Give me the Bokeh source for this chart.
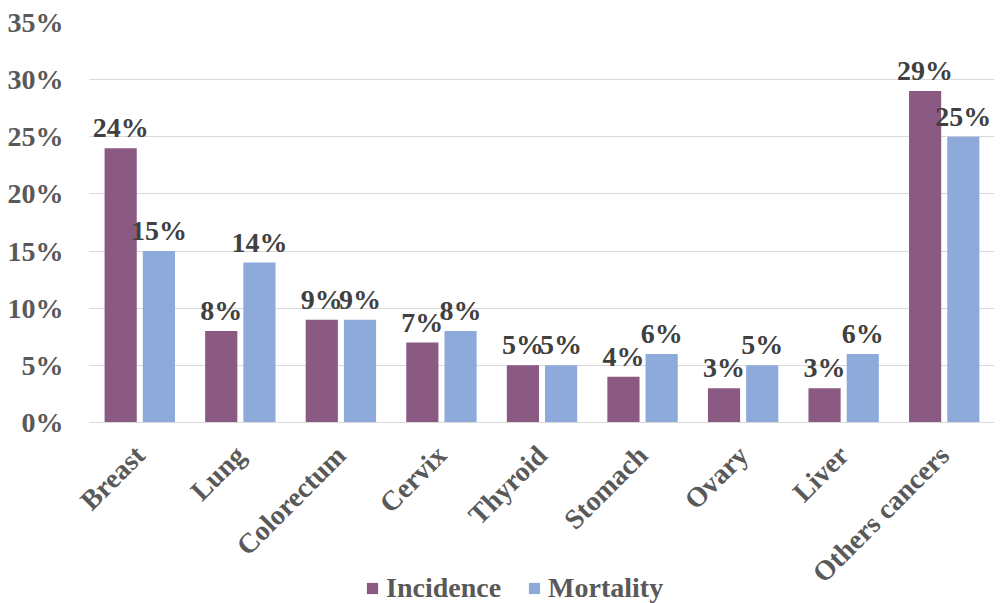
from math import pi
from bokeh.plotting import figure
from bokeh.models import (ColumnDataSource, Range1d, FixedTicker, Grid,
                          PrintfTickFormatter, CustomJSTickFormatter,
                          Legend, LegendItem, BoxAnnotation)
from bokeh.transform import dodge
from bokeh.core.properties import value
from bokeh.embed import file_html
from bokeh.resources import INLINE

categories = ["Breast", "Lung", "Colorectum", "Cervix", "Thyroid",
              "Stomach", "Ovary", "Liver", "Others cancers"]
incidence = [24, 8, 9, 7, 5, 4, 3, 3, 29]
mortality = [15, 14, 9, 8, 5, 6, 5, 6, 25]
y_ticks = [0, 5, 10, 15, 20, 25, 30, 35]

FONT = "Liberation Serif"
LEGEND_FONT = "'Liberation Serif', 'Times New Roman', serif"
INC_COLOR = "#8A5A83"
MOR_COLOR = "#8EAADB"
AX_TEXT = "#595959"
LBL_TEXT = "#404040"

positions = list(range(len(categories)))
n = len(categories)

# frame reaches the canvas bottom so the legend can sit inside it;
# value 0 lies 181 px above the bottom (400 px per 35 %)
Y_MAX = 35
Y_MIN = -Y_MAX * 181 / 400
# frame starts 17 px left of the first category so the rotated label is not clipped
PX_PER_CAT = 100.56
X_MIN = -0.5 - 17 / PX_PER_CAT
X_MAX = n - 0.5

src = ColumnDataSource(dict(
    pos=positions,
    inc=incidence,
    mor=mortality,
    inc_lbl=[f"{v}%" for v in incidence],
    mor_lbl=[f"{v}%" for v in mortality],
))

p = figure(width=1003, height=603, x_range=Range1d(X_MIN, X_MAX),
           y_range=Range1d(Y_MIN, Y_MAX), output_backend="svg",
           toolbar_location=None,
           min_border_left=72, min_border_right=9, min_border_top=22,
           min_border_bottom=0)
p.outline_line_color = None
p.background_fill_color = "white"
p.border_fill_color = "white"

r1 = p.vbar(x=dodge("pos", -0.19), top="inc", bottom=0,
            width=0.32, source=src, fill_color=INC_COLOR, line_color=None)
r2 = p.vbar(x=dodge("pos", 0.19), top="mor", bottom=0,
            width=0.32, source=src, fill_color=MOR_COLOR, line_color=None)

for off, col in ((-0.19, "inc"), (0.19, "mor")):
    p.text(x=dodge("pos", off), y=col, text=col + "_lbl",
           source=src, text_align="center", text_baseline="bottom",
           y_offset=-5, text_font=value(FONT), text_font_style="bold",
           text_font_size="28px", text_color=LBL_TEXT)

p.xgrid.grid_line_color = None
p.ygrid.grid_line_color = "#D9D9D9"
p.ygrid.grid_line_width = 1
if "cross_bounds" in Grid.properties():
    p.ygrid.cross_bounds = (-0.5, X_MAX)
else:
    p.add_layout(BoxAnnotation(left=X_MIN, right=-0.5, bottom=-1, top=Y_MAX,
                               fill_color="white", fill_alpha=1,
                               line_color=None, level="glyph"))

p.yaxis.ticker = FixedTicker(ticks=y_ticks)
p.yaxis.formatter = PrintfTickFormatter(format="%d%%")
p.yaxis.axis_line_color = None
p.yaxis.major_tick_line_color = None
p.yaxis.minor_tick_line_color = None
p.yaxis.major_label_standoff = 3
p.yaxis.major_label_text_font = FONT
p.yaxis.major_label_text_font_style = "bold"
p.yaxis.major_label_text_font_size = "28px"
p.yaxis.major_label_text_color = AX_TEXT

p.xaxis.fixed_location = 0
p.xaxis.bounds = (-0.5, X_MAX)
p.xaxis.ticker = FixedTicker(ticks=positions)
p.xaxis.formatter = CustomJSTickFormatter(
    args=dict(labels=categories),
    code="const i = Math.round(tick); return labels[i] || '';")
p.xaxis.axis_line_color = "#D9D9D9"
p.xaxis.major_tick_line_color = None
p.xaxis.minor_tick_line_color = None
p.xaxis.major_label_orientation = pi / 4
p.xaxis.major_label_standoff = 22
p.xaxis.major_label_text_font = FONT
p.xaxis.major_label_text_font_style = "bold"
p.xaxis.major_label_text_font_size = "28px"
p.xaxis.major_label_text_color = AX_TEXT

legend = Legend(items=[LegendItem(label="Incidence", renderers=[r1]),
                       LegendItem(label="Mortality", renderers=[r2])],
                orientation="horizontal", location=(293, -1),
                glyph_width=14, glyph_height=14, label_standoff=7, spacing=26,
                padding=0, margin=0, border_line_color=None,
                background_fill_alpha=0)
legend.label_text_font = LEGEND_FONT
legend.label_text_font_style = "bold"
legend.label_text_font_size = "28px"
legend.label_text_color = AX_TEXT
p.add_layout(legend, "center")

open("out.html", "w").write(file_html(p, INLINE))
